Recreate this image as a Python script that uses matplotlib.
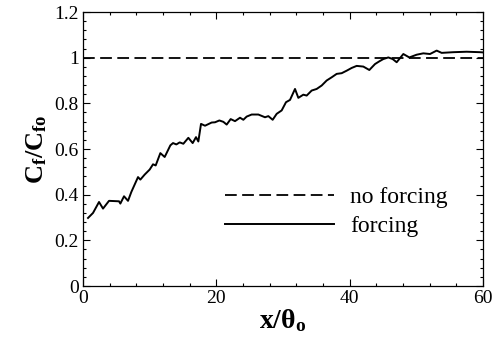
import matplotlib
matplotlib.use("Agg")
import matplotlib.pyplot as plt
from matplotlib.ticker import MultipleLocator

plt.rcParams['font.family'] = ['Liberation Serif', 'DejaVu Serif']
plt.rcParams['mathtext.fontset'] = 'custom'
plt.rcParams['mathtext.rm'] = 'Liberation Serif'
plt.rcParams['mathtext.it'] = 'Liberation Serif:italic'
plt.rcParams['mathtext.bf'] = 'Liberation Serif:bold'

# forcing case
x_forcing = [0.75, 1.5, 2.4, 3.0, 3.9, 5.4, 5.6, 6.15, 6.75, 7.25, 8.25, 8.6, 9.25,
             10.0, 10.5, 10.9, 11.6, 12.25, 13.1, 13.5, 14.0, 14.5, 15.05, 15.8,
             16.45, 16.95, 17.3, 17.7, 18.3, 19.3, 19.8, 20.45, 21.05, 21.55, 22.15,
             22.8, 23.55, 24.05, 24.55, 25.3, 26.3, 27.3, 27.8, 28.45, 29.05, 29.8,
             30.45, 31.05, 31.8, 32.3, 33.05, 33.55, 34.3, 35.05, 35.8, 36.55, 37.3,
             38.05, 38.8, 39.55, 40.3, 41.05, 42.05, 42.95, 43.8, 44.45, 45.05,
             45.8, 46.45, 47.05, 48.05, 48.95, 50.05, 51.05, 52.05, 53.05, 53.8,
             55.55, 57.55, 59.55, 60.0]
cf_forcing = [0.298, 0.32, 0.368, 0.339, 0.373, 0.371, 0.361, 0.393, 0.373, 0.412,
              0.477, 0.466, 0.488, 0.51, 0.533, 0.528, 0.582, 0.565, 0.616, 0.626,
              0.62, 0.629, 0.623, 0.649, 0.626, 0.652, 0.633, 0.71, 0.702, 0.716,
              0.717, 0.725, 0.719, 0.707, 0.731, 0.722, 0.737, 0.728, 0.742, 0.751,
              0.751, 0.739, 0.744, 0.728, 0.754, 0.769, 0.805, 0.815, 0.863, 0.824,
              0.838, 0.834, 0.856, 0.863, 0.878, 0.9, 0.914, 0.929, 0.932, 0.943,
              0.955, 0.964, 0.961, 0.946, 0.972, 0.984, 0.994, 1.001, 0.994, 0.98,
              1.016, 1.001, 1.013, 1.019, 1.016, 1.031, 1.021, 1.024, 1.026, 1.024,
              1.023]

# no forcing reference level
x_none = [0, 60]
cf_none = [1.0, 1.0]

fig = plt.figure(figsize=(4.93, 3.39), dpi=100)
ax = fig.add_axes([0.1684, 0.1563, 0.8113, 0.8083])

ax.plot(x_none, cf_none, color='black', lw=1.3, dashes=(6.5, 3), label='no forcing')
ax.plot(x_forcing, cf_forcing, color='black', lw=1.4, label='forcing')

ax.set_xlim(0, 60)
ax.set_ylim(0, 1.2)
ax.xaxis.set_minor_locator(MultipleLocator(4))
ax.yaxis.set_minor_locator(MultipleLocator(0.04))
ax.set_xticks([0, 20, 40, 60])
ax.set_xticklabels(['0', '20', '40', '60'])
ax.set_yticks([0, 0.2, 0.4, 0.6, 0.8, 1.0, 1.2])
ax.set_yticklabels(['0', '0.2', '0.4', '0.6', '0.8', '1', '1.2'])
ax.tick_params(which='both', direction='in', top=True, right=True, labelsize=14, width=0.8)
ax.tick_params(which='major', length=5, pad=3)
ax.tick_params(which='minor', length=2.5)
for s in ax.spines.values():
    s.set_linewidth(0.9)

ax.set_xlabel(r'$\mathbf{x/θ_o}$', fontsize=20, labelpad=0)
ax.set_ylabel(r'$\mathbf{C_f/C_{fo}}$', fontsize=19, labelpad=4)

ax.legend(loc='upper left', bbox_to_anchor=(0.355, 0.362), frameon=False, fontsize=17,
          handlelength=4.6, handletextpad=0.7, labelspacing=0.32, borderpad=0,
          borderaxespad=0)

fig.savefig('out.png', dpi=100)
